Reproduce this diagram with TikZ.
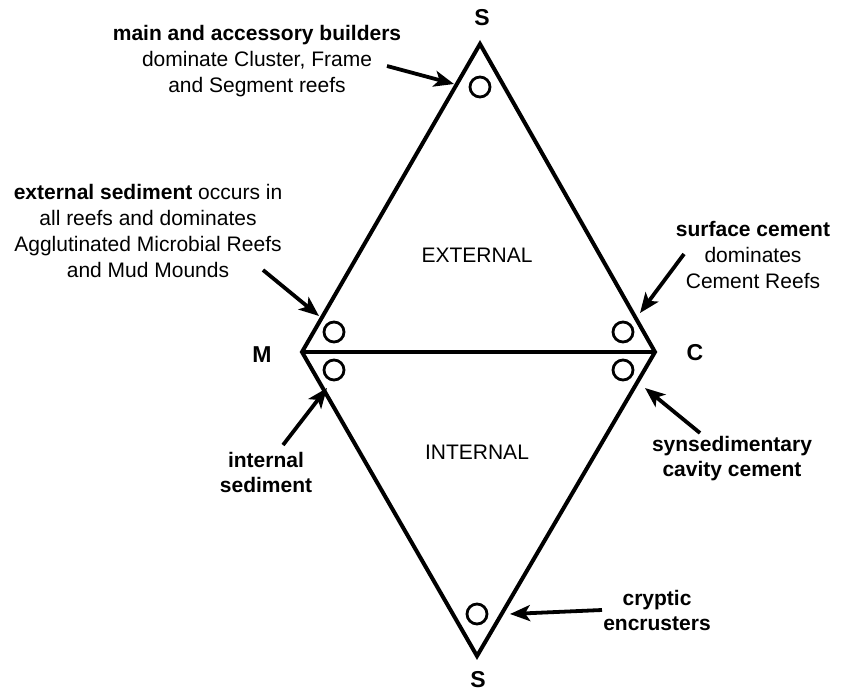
\documentclass[tikz,border=0pt]{standalone}
\usepackage{fontspec}
\setmainfont{Liberation Sans}
\usetikzlibrary{arrows.meta}

\tikzset{
  edge/.style={line width=4pt, line join=miter},
  ring/.style={circle, draw, line width=2.8pt, minimum size=20pt, inner sep=0pt},
  pointer/.style={line width=3.8pt, -{Stealth[length=20pt, width=16pt, inset=5pt]}},
  corner/.style={font=\fontsize{23}{26}\selectfont\bfseries},
  note/.style={align=center, font=\fontsize{21}{26}\selectfont},
  boldnote/.style={note, font=\fontsize{21}{25}\selectfont\bfseries},
  zone/.style={font=\fontsize{21}{24}\selectfont}
}

\begin{document}
\begin{tikzpicture}[x=1pt, y=-1pt]
\useasboundingbox (0,0) rectangle (842,693);
% corners of the diamond
\coordinate (top) at (480,44);
\coordinate (mid) at (302,352);
\coordinate (cem) at (655,352);
\coordinate (bot) at (477,656);
\draw[edge] (top) -- (cem) -- (bot) -- (mid) -- cycle;
\draw[edge] (mid) -- (cem);
\node[corner] (lbTop) at (482,18) {S};
\node[corner] (lbM) at (262,355) {M};
\node[corner] (lbC) at (695,353) {C};
\node[corner] (lbBot) at (478,680) {S};
\node[zone] (ext) at (477,255) {EXTERNAL};
\node[zone] (int) at (477,452) {INTERNAL};
% the small rings
\node[ring] (rTop) at (480,87) {};
\node[ring] (rMu) at (334,332) {};
\node[ring] (rMl) at (334,370) {};
\node[ring] (rCu) at (623,332) {};
\node[ring] (rCl) at (623,370) {};
\node[ring] (rBot) at (477,614) {};
% notes
\node[note] (nBuild) at (257,61) {\textbf{main and accessory builders}\\dominate Cluster, Frame\\and Segment reefs};
\node[note] (nExt) at (148,231) {\textbf{external sediment} occurs in\\all reefs and dominates\\Agglutinated Microbial Reefs\\and Mud Mounds};
\node[note] (nSurf) at (753,255) {\textbf{surface cement}\\dominates\\Cement Reefs};
\node[boldnote] (nInt) at (266,472) {internal\\sediment};
\node[boldnote] (nSyn) at (732,459) {synsedimentary\\cavity cement};
\node[boldnote] (nCry) at (657,610) {cryptic\\encrusters};
% arrows
\coordinate (tBuild) at (387,66);  \coordinate (hBuild) at (454,84);
\coordinate (tExt) at (263,270);   \coordinate (hExt) at (319,316);
\coordinate (tSurf) at (684,254);  \coordinate (hSurf) at (640,313);
\coordinate (tInt) at (283,445);   \coordinate (hInt) at (327,388);
\coordinate (tSyn) at (700,433);   \coordinate (hSyn) at (645,388);
\coordinate (tCry) at (602,610);   \coordinate (hCry) at (510,614);
\draw[pointer] (tBuild) -- (hBuild);
\draw[pointer] (tExt) -- (hExt);
\draw[pointer] (tSurf) -- (hSurf);
\draw[pointer] (tInt) -- (hInt);
\draw[pointer] (tSyn) -- (hSyn);
\draw[pointer] (tCry) -- (hCry);
\end{tikzpicture}
\end{document}
